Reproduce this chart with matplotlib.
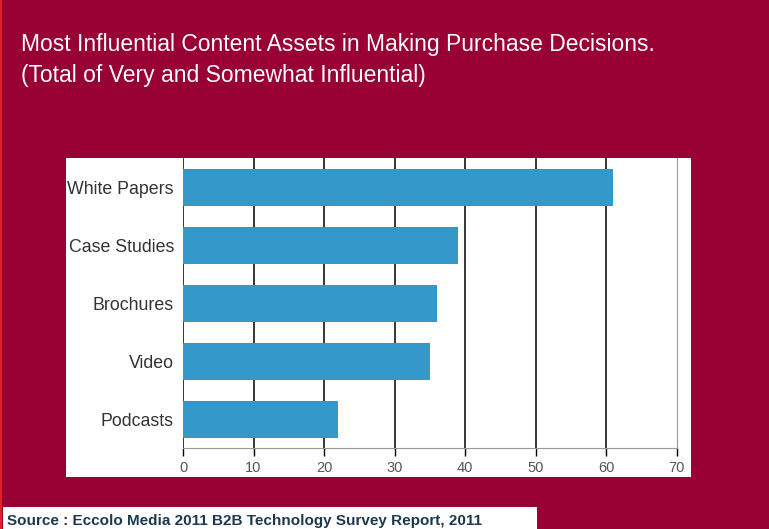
import matplotlib.pyplot as plt
from matplotlib.patches import Rectangle

# survey results, percent answering very or somewhat influential
assets = ["White Papers", "Case Studies", "Brochures", "Video", "Podcasts"]
influence = [61, 39, 36, 35, 22]
xticks = [0, 10, 20, 30, 40, 50, 60, 70]

title = ("Most Influential Content Assets in Making Purchase Decisions.\n"
         "(Total of Very and Somewhat Influential)")
source = "Source : Eccolo Media 2011 B2B Technology Survey Report, 2011"

bg = "#990033"
bar_color = "#3598cb"

fig = plt.figure(figsize=(7.69, 5.29), dpi=100)
fig.patch.set_facecolor(bg)

# white card behind the chart
fig.patches.append(Rectangle((0.0858, 0.0983), 0.813, 0.603,
                             transform=fig.transFigure, facecolor="white",
                             edgecolor="none", zorder=0))
# white strip for the source note
fig.patches.append(Rectangle((0.004, 0.0), 0.694, 0.042,
                             transform=fig.transFigure, facecolor="white",
                             edgecolor="none", zorder=0))
# thin bright edge on the left
fig.patches.append(Rectangle((0.0, 0.0), 0.002, 1.0,
                             transform=fig.transFigure, facecolor="#e0202a",
                             edgecolor="none", zorder=0))

fig.text(0.027, 0.937, title, color="white", fontsize=16.5,
         family="Liberation Sans", va="top", ha="left", linespacing=1.4)
fig.text(0.009, 0.002, source, color="#1c3a4c", fontsize=11,
         family="Liberation Sans", fontweight="bold", va="bottom", ha="left")

ax = fig.add_axes([0.238, 0.153, 0.642, 0.548])
ax.set_zorder(2)
ax.set_facecolor("none")
pos = list(range(len(assets)))
ax.barh(pos, influence, height=0.64, color=bar_color, zorder=3)
ax.set_ylim(len(assets) - 0.5, -0.5)
ax.set_xlim(0, 70)
ax.set_yticks(pos)
ax.set_yticklabels(assets, fontsize=12.8, color="#333333",
                   family="Liberation Sans")
ax.set_xticks(xticks)
ax.set_xticklabels([str(t) for t in xticks], fontsize=10.5, color="#555555",
                   family="Liberation Sans")
ax.tick_params(axis="y", length=0, pad=6.5)
ax.tick_params(axis="x", length=6, width=1, color="black", pad=3)

for t in xticks[:-1]:
    ax.axvline(t, color="black", lw=1.1, zorder=1)

ax.spines["top"].set_visible(False)
ax.spines["left"].set_visible(False)
ax.spines["bottom"].set_color("#999999")
ax.spines["right"].set_color("#999999")

fig.savefig("out.png", dpi=100, facecolor=bg)
